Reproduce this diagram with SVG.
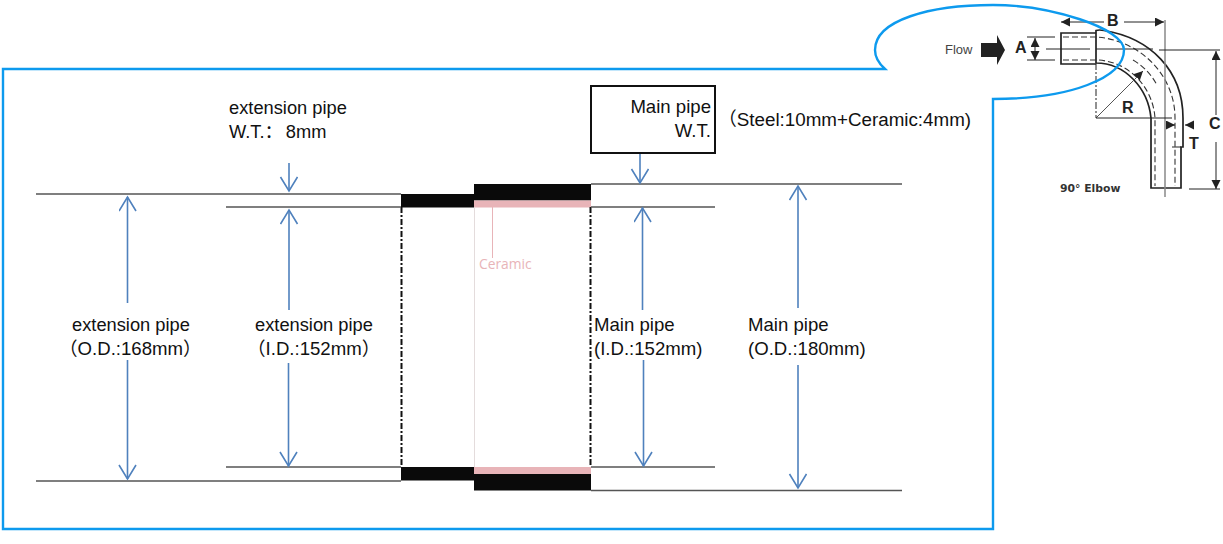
<svg xmlns="http://www.w3.org/2000/svg" width="1223" height="544" viewBox="0 0 1223 544">
<style>
text{font-family:"Liberation Sans","Noto Sans CJK SC",sans-serif;fill:#111;font-size:18.300px}
text.m{font-size:18.600px}
.ln{stroke:#555;stroke-width:1.3;fill:none}
.dd{stroke:#111;stroke-width:2;stroke-dasharray:6 2 2 2;fill:none}
.bl{stroke:#4f81bd;stroke-width:1.600;fill:none;marker-end:url(#open)}
.e{stroke:#222;stroke-width:1.700;fill:none}
.ed{stroke:#333;stroke-width:1.100;fill:none;stroke-dasharray:6 3}
.d{stroke:#222;stroke-width:1;fill:none}
.k{font-family:"Liberation Sans",sans-serif;font-weight:700;fill:#222;font-size:16px}
</style>
<defs>
<marker id="open" markerUnits="userSpaceOnUse" markerWidth="20" markerHeight="20" refX="15" refY="9" orient="auto"><path d="M1 0.500L15 9L1 17.500" fill="none" stroke="#4f81bd" stroke-width="1.600"/></marker>
<marker id="k" markerUnits="userSpaceOnUse" markerWidth="10" markerHeight="10" refX="9" refY="4.500" orient="auto-start-reverse"><path d="M0 0L9 4.500L0 9Z" fill="#222"/></marker>
</defs>
<rect width="1223" height="544" fill="#fff"/>
<g id="elbow">
<path class="e" d="M1096 33H1061V64H1096"/>
<path class="e" d="M1096 63V30.500Q1099 29.500 1104 30.500C1150 38 1183 70 1183 118V147H1181V188H1151V118C1148 88 1125 63 1096 63"/>
<path class="ed" d="M1063 37H1096C1140 40 1175 75 1175 118V186"/>
<path class="ed" d="M1063 60H1098C1130 62 1153 88 1155 118V186"/>
<path class="ed" d="M1133 60C1145 67 1152 76 1157 85"/>
<path d="M1165 20V197" fill="none" stroke="#888" stroke-width="1.500"/>
<path class="d" d="M1096 63V118" stroke-dasharray="7 2 2 2"/>
<path class="d" d="M1046 49H1090M1096 49H1153"/>
<path class="d" d="M1159 50H1220M1189 189H1220"/>
<path class="d" marker-start="url(#k)" d="M1061 22H1104"/>
<path class="d" marker-end="url(#k)" d="M1124 22H1164"/>
<path class="d" d="M1027 37H1055M1027 60H1055"/>
<path class="d" marker-start="url(#k)" marker-end="url(#k)" d="M1035 38V60"/>
<path class="d" marker-start="url(#k)" d="M1216 51V115"/>
<path class="d" marker-end="url(#k)" d="M1216 142V189"/>
<path d="M1096 118L1143 71" fill="none" stroke="#555" stroke-width="1" marker-end="url(#k)"/>
<path class="d" d="M1096 118H1172"/>
<path class="d" marker-end="url(#k)" d="M1168 125H1175"/>
<path class="d" marker-end="url(#k)" d="M1194 125H1185"/>
<path class="d" d="M1172 147H1181"/>
<polygon points="981,43 997,43 997,35 1005,50 997,65 997,57 981,57" fill="#222"/>
<text x="945" y="54" style="font-size:13px;fill:#444">Flow</text>
<text class="k" x="1107" y="26">B</text>
<text class="k" x="1015" y="53">A</text>
<text class="k" x="1122" y="113">R</text>
<text class="k" x="1209" y="129">C</text>
<text class="k" x="1189" y="149">T</text>
<text x="1060" y="192" style="font-family:'DejaVu Sans',sans-serif;font-weight:700;fill:#333;font-size:10.800px">90° Elbow</text>
</g>
<path id="frame" d="M3 69H885Q875 60 875 50C875 20 930 5 993 5C1050 5 1124 28 1124 50C1124 78 1070 99 993 99V529H3Z" fill="none" stroke="#0d9aee" stroke-width="2.400"/>
<g id="pipe-section">
<rect x="401" y="194" width="73" height="13.500" fill="#0a0a0a"/>
<rect x="474" y="184" width="117" height="16.500" fill="#0a0a0a"/>
<rect x="474" y="200.500" width="117" height="7" fill="#e8b4b8"/>
<rect x="401" y="467" width="73" height="13.500" fill="#0a0a0a"/>
<rect x="474" y="467" width="117" height="7" fill="#e8b4b8"/>
<rect x="474" y="474" width="117" height="16.500" fill="#0a0a0a"/>
<path d="M474.500 207V467" stroke="#e4dcdc" stroke-width="1" fill="none"/>
<path d="M492.500 207V258" stroke="#e8b4b8" stroke-width="1" fill="none"/>
<path class="dd" d="M401.500 207V467M590.500 207V467"/>
</g>
<g id="connectors">
<path class="ln" d="M36 194H401M226 207H401M591 184H902M591 207H715M226 467H401M36 481H401M591 467H715M591 490.500H902"/>
<path class="bl" d="M127.500 303V197"/>
<path class="bl" d="M127.500 360V479"/>
<path class="bl" d="M289 163V191"/>
<path class="bl" d="M289 310V210"/>
<path class="bl" d="M288.500 363V466"/>
<path class="bl" d="M640 153V183"/>
<path class="bl" d="M642.500 310V208"/>
<path class="bl" d="M643.500 360V466"/>
<path class="bl" d="M798 308V186"/>
<path class="bl" d="M798 365V488"/>
</g>
<g id="main-pipe-wt"><rect x="591" y="86" width="124" height="67" fill="#fff" stroke="#111" stroke-width="2"/><text class="m" x="711" y="113" text-anchor="end">Main pipe</text><text class="m" x="711" y="137" text-anchor="end">W.T.</text></g>
<g id="labels">
<text x="229" y="114">extension pipe</text>
<text x="229" y="138">W.T.：<tspan dx="3">8mm</tspan></text>
<text x="718" y="126" style="font-size:18.800px">（Steel:10mm+Ceramic:4mm)</text>
<text x="72" y="331">extension pipe</text>
<text class="m" x="59" y="355">（O.D.:168mm）</text>
<text x="255" y="331">extension pipe</text>
<text class="m" x="247" y="355">（I.D.:152mm）</text>
<text class="m" x="594" y="331">Main pipe</text>
<text class="m" x="594" y="355">(I.D.:152mm)</text>
<text class="m" x="748" y="331">Main pipe</text>
<text class="m" x="748" y="355">(O.D.:180mm)</text>
<text x="479" y="269" style="font-family:'Open Sans','Liberation Sans',sans-serif;fill:#e8b4b8;font-size:13.800px">Ceramic</text>
</g>
</svg>
